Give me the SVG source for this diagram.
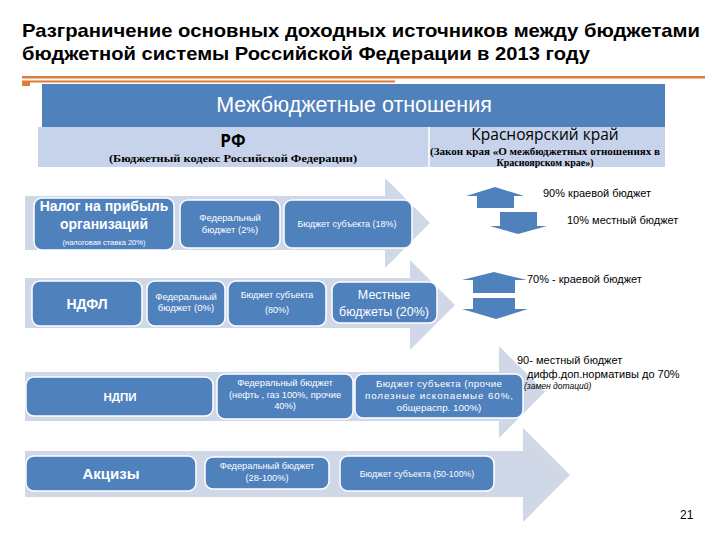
<svg xmlns="http://www.w3.org/2000/svg" width="720" height="540" viewBox="0 0 720 540">
<style>
.bg{fill:#d0d7e7}
.box{fill:#4f81bd;stroke:#ffffff;stroke-width:1.5}
.sa{fill:#4f81bd}
.w{fill:#ffffff;font-family:"Liberation Sans",Arial,sans-serif;text-anchor:middle}
.k{fill:#000000;font-family:"Liberation Sans",Arial,sans-serif}
.s{fill:#000000;font-family:"Liberation Serif","Times New Roman",serif;font-weight:bold;text-anchor:middle}
</style>
<rect width="720" height="540" fill="#ffffff"/>
<g id="title">
<text class="k" x="22" y="37" font-size="19" font-weight="bold" textLength="678" lengthAdjust="spacingAndGlyphs">Разграничение основных доходных источников между бюджетами</text>
<text class="k" x="22" y="60" font-size="19" font-weight="bold" textLength="568" lengthAdjust="spacingAndGlyphs">бюджетной системы Российской Федерации в 2013 году</text>
<rect x="22" y="76" width="683" height="2.5" fill="#e07b39"/>
<rect x="22" y="80.5" width="373" height="2" fill="#e07b39"/>
<rect x="22" y="82" width="8" height="4" fill="#e07b39"/>
</g>
<g id="header">
<rect x="42" y="84" width="623" height="43" fill="#4f81bd"/>
<text class="w" x="354" y="112" font-size="21.5" font-family="Open Sans,sans-serif">Межбюджетные отношения</text>
<rect x="38" y="127" width="627" height="40" fill="#c6d3ea"/>
<line x1="429" y1="127" x2="429" y2="167" stroke="#ffffff" stroke-width="1.5"/>
<text x="233" y="147" font-size="17" font-weight="bold" text-anchor="middle" font-family="Open Sans,sans-serif">РФ</text>
<text class="s" x="233" y="162" font-size="11" textLength="248" lengthAdjust="spacingAndGlyphs">(Бюджетный кодекс Российской Федерации)</text>
<text x="545" y="140" font-size="15.5" text-anchor="middle" font-family="Open Sans,sans-serif">Красноярский край</text>
<text class="s" x="545" y="155" font-size="10" textLength="230" lengthAdjust="spacingAndGlyphs">(Закон края «О межбюджетных отношениях в</text>
<text class="s" x="545" y="166" font-size="10">Красноярском крае»)</text>
</g>
<g id="connectors">
<path class="bg" d="M25,196 H385 V178 L430,223 L385,268 V250 H25 Z"/>
<path class="bg" d="M25,278 H410 V260 L455,305 L410,350 V328 H25 Z"/>
<path class="bg" d="M25,372 H499 V346 L545,392 L499,438 V421 H25 Z"/>
<path class="bg" d="M25,451 H523 V428 L570,475 L523,522 V497 H25 Z"/>
<path class="sa" d="M466,196 L495,187 L524,196 H514 V208 H477 V196 Z"/>
<path class="sa" d="M500,212 H537 V226 H547 L518,234 L490,226 H500 Z"/>
<path class="sa" d="M462,280 L494,272 L527,280 H515 V293 H473 V280 Z"/>
<path class="sa" d="M473,298 H515 V309 H528 L496,319 L462,309 H473 Z"/>
</g>
<g id="n1">
<rect class="box" x="34" y="198" width="140" height="52" rx="8"/>
<text class="w" x="104" y="211" font-size="14" font-weight="bold">Налог на прибыль</text>
<text class="w" x="104" y="229" font-size="14" font-weight="bold">организаций</text>
<text class="w" x="104" y="245" font-size="7.5">(налоговая ставка 20%)</text>
</g>
<g id="n1f">
<rect class="box" x="180" y="200" width="100" height="48" rx="8"/>
<text class="w" x="230" y="221" font-size="9.5">Федеральный</text>
<text class="w" x="230" y="233" font-size="9.5">бюджет (2%)</text>
</g>
<g id="n1s">
<rect class="box" x="284" y="200" width="128" height="48" rx="8"/>
<text class="w" x="347" y="227" font-size="9">Бюджет субъекта (18%)</text>
</g>
<g id="n2">
<rect class="box" x="32" y="281" width="110" height="45" rx="8"/>
<text class="w" x="87" y="309" font-size="14" font-weight="bold">НДФЛ</text>
</g>
<g id="n2f">
<rect class="box" x="147" y="281" width="78" height="45" rx="8"/>
<text class="w" x="186" y="300" font-size="9.5">Федеральный</text>
<text class="w" x="186" y="311" font-size="9.5">бюджет (0%)</text>
</g>
<g id="n2s">
<rect class="box" x="228" y="281" width="98" height="45" rx="8"/>
<text class="w" x="277" y="298" font-size="9">Бюджет субъекта</text>
<text class="w" x="277" y="313" font-size="9">(80%)</text>
</g>
<g id="n2l">
<rect class="box" x="332" y="282" width="105" height="41" rx="8"/>
<text class="w" x="384" y="299" font-size="12.5">Местные</text>
<text class="w" x="384" y="316" font-size="12.5">бюджеты (20%)</text>
</g>
<g id="n3">
<rect class="box" x="26" y="377" width="187" height="39" rx="8"/>
<text class="w" x="120" y="401" font-size="11.5" font-weight="bold">НДПИ</text>
</g>
<g id="n3f">
<rect class="box" x="217" y="374" width="136" height="45" rx="8"/>
<text class="w" x="285" y="386" font-size="9.3">Федеральный бюджет</text>
<text class="w" x="285" y="398" font-size="9.3">(нефть , газ 100%,  прочие</text>
<text class="w" x="285" y="409" font-size="9.3">40%)</text>
</g>
<g id="n3s">
<rect class="box" x="355" y="374" width="168" height="44" rx="8"/>
<text class="w" x="439" y="387" font-size="9.8" textLength="126" lengthAdjust="spacing">Бюджет субъекта (прочие</text>
<text class="w" x="439" y="399" font-size="9.8" textLength="148" lengthAdjust="spacing">полезные ископаемые 60%,</text>
<text class="w" x="439" y="411" font-size="9.8">общераспр. 100%)</text>
</g>
<g id="n4">
<rect class="box" x="26" y="456" width="170" height="35" rx="8"/>
<text class="w" x="111" y="479" font-size="15" font-weight="bold">Акцизы</text>
</g>
<g id="n4f">
<rect class="box" x="205" y="457" width="124" height="32" rx="8"/>
<text class="w" x="267" y="469" font-size="9.2">Федеральный бюджет</text>
<text class="w" x="267" y="481" font-size="9.2">(28-100%)</text>
</g>
<g id="n4s">
<rect class="box" x="340" y="456" width="154" height="35" rx="8"/>
<text class="w" x="417" y="477" font-size="8.8">Бюджет субъекта (50-100%)</text>
</g>
<g id="notes">
<text class="k" x="543" y="197" font-size="11">90% краевой бюджет</text>
<text class="k" x="567" y="224" font-size="11">10% местный бюджет</text>
<text class="k" x="527" y="283" font-size="11">70% - краевой бюджет</text>
<text class="k" x="517" y="364" font-size="11">90- местный бюджет</text>
<text class="k" x="527" y="378" font-size="11">дифф.доп.нормативы  до 70%</text>
<text class="k" x="524" y="389" font-size="8.5" font-style="italic">(замен дотаций)</text>
<text class="k" x="680" y="519" font-size="12">21</text>
</g>
</svg>
